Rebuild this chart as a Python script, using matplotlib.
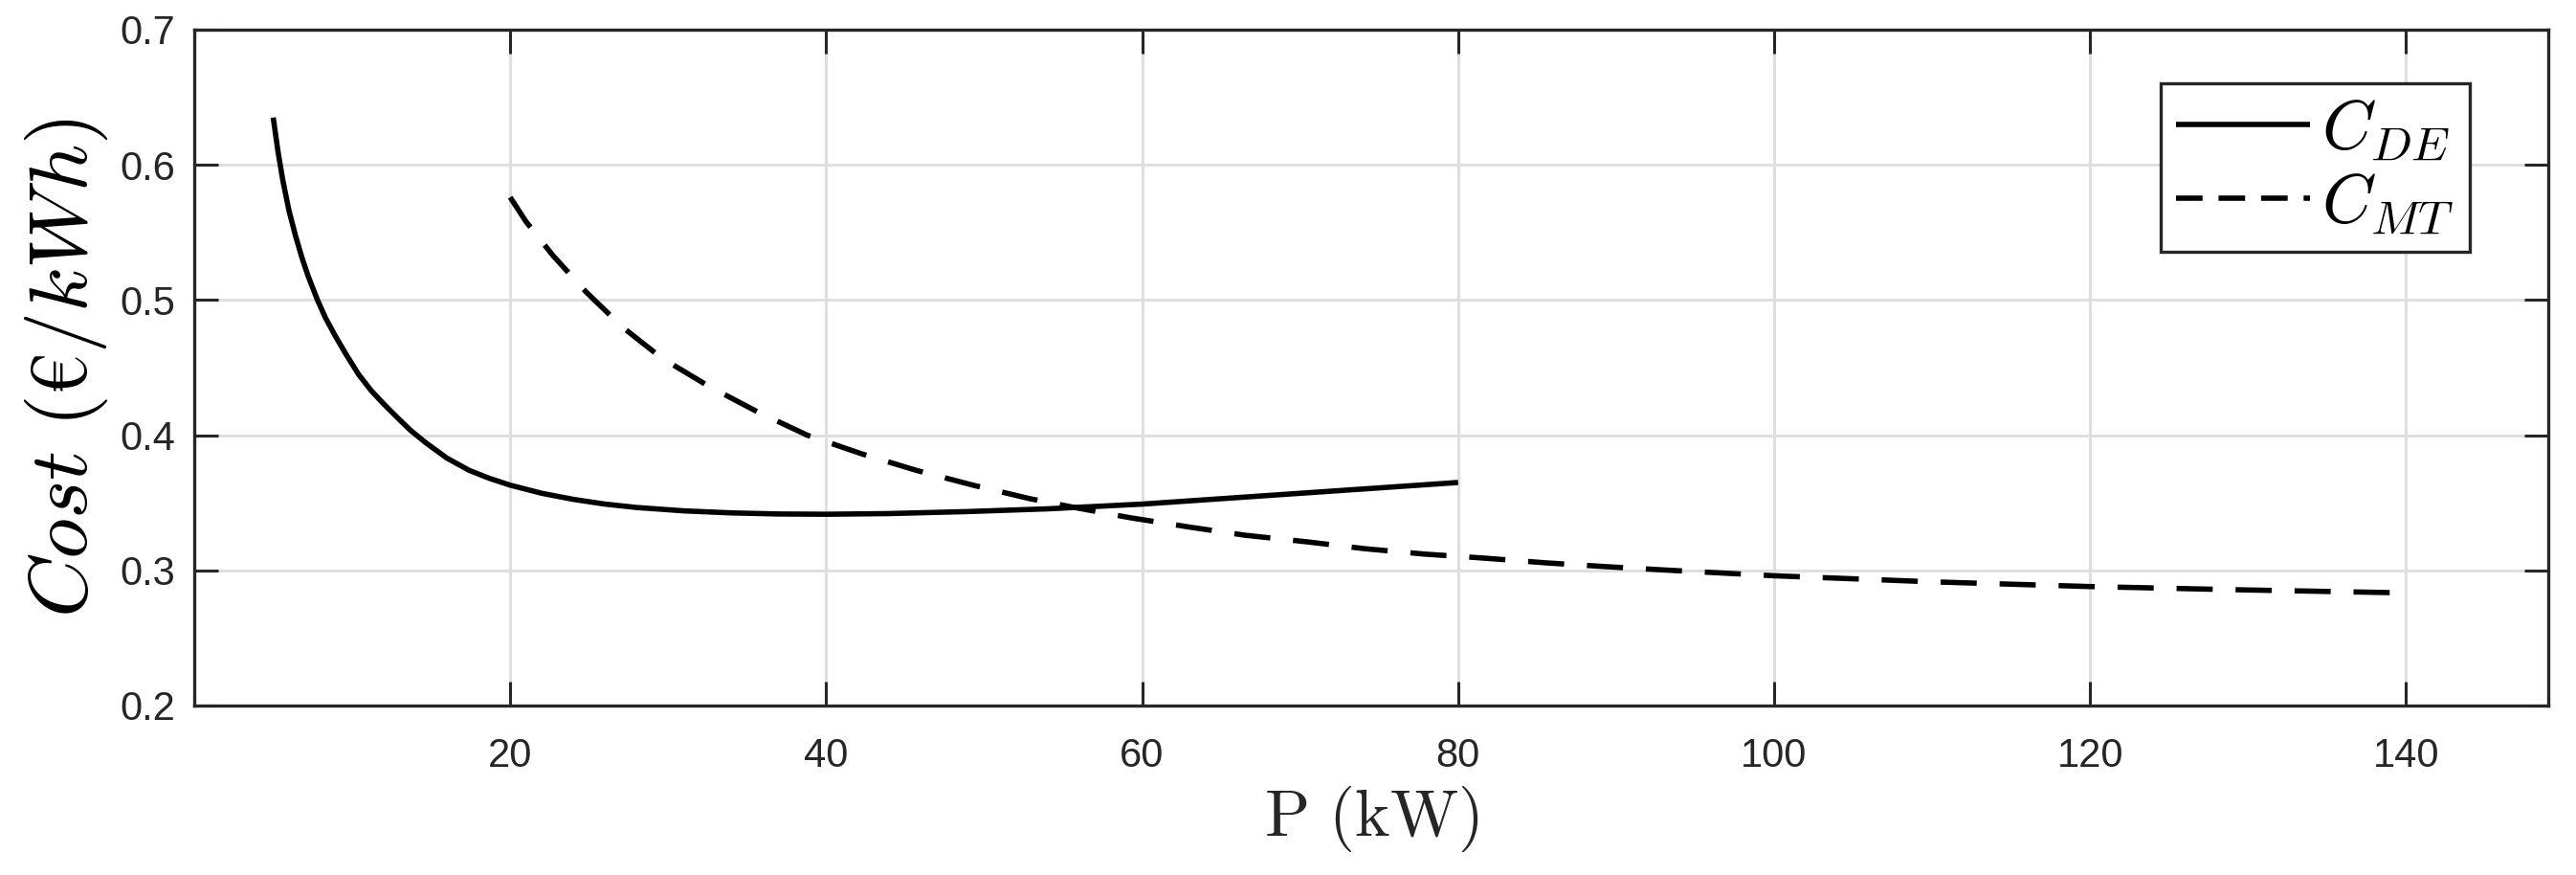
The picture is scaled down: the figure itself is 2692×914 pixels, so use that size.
import matplotlib
matplotlib.use('Agg')
import matplotlib.pyplot as plt
from matplotlib.lines import Line2D

# Diesel engine cost curve
p_de = [5.0, 5.3, 5.6, 6.0, 6.4, 6.8, 7.2, 7.8, 8.3, 8.9, 9.6, 10.4, 11.2, 12.0,
        12.9, 13.7, 14.7, 16.0, 17.4, 18.7, 20, 22, 24, 26, 28, 31, 34, 37, 40,
        44, 49, 54, 60, 65, 70, 75, 80]
c_de = [0.635, 0.610, 0.589, 0.566, 0.548, 0.532, 0.518, 0.500, 0.487, 0.474,
        0.460, 0.445, 0.433, 0.423, 0.4125, 0.4035, 0.394, 0.383, 0.374, 0.368,
        0.363, 0.357, 0.3525, 0.349, 0.3465, 0.344, 0.3425, 0.3417, 0.3415,
        0.342, 0.3435, 0.3455, 0.349, 0.353, 0.357, 0.361, 0.365]

# Micro turbine cost curve
p_mt = [20, 21, 22.7, 24.8, 27.1, 29.6, 32.6, 35.7, 38.8, 42.3, 45.7, 49.3, 52.9,
        55.5, 59.2, 63, 66.5, 70.5, 74.1, 77.9, 81.7, 85.6, 89.4, 93, 100, 110,
        120, 129, 140]
c_mt = [0.576, 0.558, 0.533, 0.506, 0.480, 0.457, 0.436, 0.417, 0.400, 0.386,
        0.374, 0.363, 0.353, 0.347, 0.339, 0.332, 0.326, 0.321, 0.316, 0.312,
        0.309, 0.3055, 0.3027, 0.3003, 0.296, 0.2915, 0.288, 0.2857, 0.2833]

labels = [r'$C_{DE}$', r'$C_{MT}$']
x_ticks = [20, 40, 60, 80, 100, 120, 140]
y_ticks = [0.2, 0.3, 0.4, 0.5, 0.6, 0.7]
y_ticklabels = ['0.2', '0.3', '0.4', '0.5', '0.6', '0.7']

plt.rcParams['mathtext.fontset'] = 'cm'
plt.rcParams['font.family'] = ['Liberation Sans', 'DejaVu Sans']

dark = '#262626'
lw = 4.0

fig = plt.figure(figsize=(26.92, 9.14), dpi=100)
ax = fig.add_axes([0.0754, 0.1937, 0.9138, 0.7724])

ax.plot(p_de, c_de, color='black', lw=lw, solid_capstyle='butt',
        solid_joinstyle='round')
ax.plot(p_mt, c_mt, color='black', lw=lw, linestyle=(0, (6.8, 4.3)),
        dash_capstyle='butt')

ax.set_xlim(0, 149)
ax.set_ylim(0.2, 0.7)
ax.set_xticks(x_ticks)
ax.set_yticks(y_ticks)
ax.set_yticklabels(y_ticklabels)

ax.set_axisbelow(True)
ax.grid(True, color='#dfdfdf', lw=2.2)
for s in ax.spines.values():
    s.set_color(dark)
    s.set_linewidth(2.4)

ax.tick_params(direction='in', length=18, width=2.2, top=True, right=True,
               colors=dark, labelsize=30)
ax.tick_params(axis='x', pad=24)
ax.tick_params(axis='y', pad=14)

ax.set_xlabel(r'$\mathrm{P\ (kW)}$', fontsize=50, color=dark, labelpad=6)
ax.set_ylabel(r'$Cost\ (€/kWh)$', fontsize=62, color='black', labelpad=8)

# legend handles (MATLAB draws the legend dash a bit shorter)
handles = [Line2D([], [], color='black', lw=lw, solid_capstyle='butt'),
           Line2D([], [], color='black', lw=lw, linestyle=(0, (5.0, 3.0)),
                  dash_capstyle='butt')]
leg = ax.legend(handles, labels, loc='upper left', bbox_to_anchor=(0.8354, 0.9207),
                fontsize=52, fancybox=False, framealpha=1, edgecolor=dark,
                handlelength=1.94, handletextpad=0.17, borderpad=0.22,
                labelspacing=0.12, borderaxespad=0)
leg.get_frame().set_linewidth(2.4)

fig.savefig('out.png', dpi=100)
